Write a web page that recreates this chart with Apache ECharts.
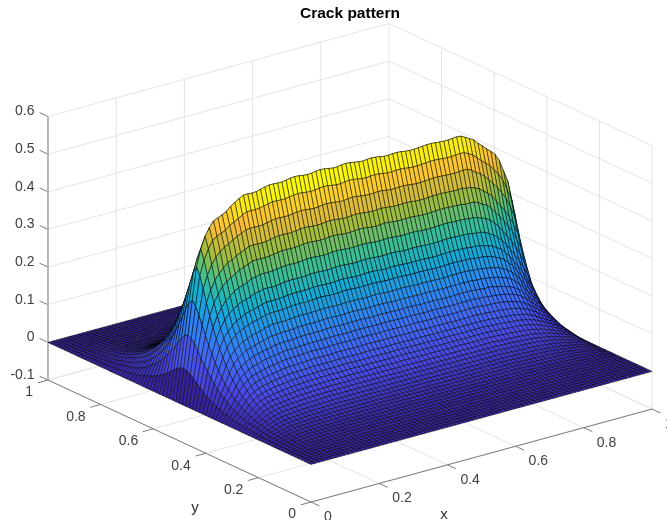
<!DOCTYPE html>
<html><head><meta charset="utf-8">
<script src="https://cdn.jsdelivr.net/npm/echarts@6/dist/echarts.min.js"></script>
<style>html,body{margin:0;padding:0;background:#fff}#c{width:667px;height:520px}</style>
</head><body><div id="c"></div>
<script>
var titleText = 'Crack pattern';
var xTicks = [0, 0.2, 0.4, 0.6, 0.8, 1];
var yTicks = [0, 0.2, 0.4, 0.6, 0.8, 1];
var zTicks = [-0.1, 0, 0.1, 0.2, 0.3, 0.4, 0.5, 0.6];
var meshCells = 80;
var crestRow = 40;

// height along the crack line, one value per x mesh line
var ridgeZ = [
.498,.498,.499,.499,.500,.500,.500,.500,.500,.500,
.500,.501,.502,.504,.506,.507,.507,.506,.507,.510,
.513,.515,.515,.514,.514,.516,.518,.519,.518,.516,
.515,.516,.518,.519,.518,.516,.514,.514,.516,.517,
.516,.514,.512,.511,.512,.513,.512,.510,.508,.508,
.509,.509,.508,.506,.505,.505,.506,.507,.508,.508,
.507,.506,.505,.505,.506,.507,.506,.505,.503,.502,
.500,.500,.499,.499,.498,.498,.498,.497,.497,.497,.497];

// height against distance (in y mesh lines) from the crack, on the plateau
var acrossZ = [.505,.465,.425,.385,.35,.315,.28,.25,.225,.20,.178,.158,.14,.124,.109,.096,.085,.075,.066,.058,.051,.045,.039,.034,.03,.026,.023,.02,.017,.015,.013,.011,.009,.008,.006,.005,.004,.003,.002,.001,0];

// percent of plateau height at the left end: rows = distance 0..30, columns = x lines 0..16
var leftEnd = [
[0,18,35,53,70,79,85,89,92,93,94,95,97,98,99,100,100],
[0,19,37,55,72,80,86,90,92,93,94,96,97,98,99,100,100],
[0,19.5,38,55.5,71,79,85,89,92,94,95,97,98,99,100,100,100],
[0,19.5,38,55,70,78,84,88,91,94,95,97,98,99,100,100,100],
[0,19,37,54,68,77,83,88,91,93,95,97,98,99,100,100,100],
[0,18.5,37,53,67,76,82,87,90,93,95,96,97,99,99,100,100],
[0,18,37,52.5,66,75,82,87,90,93,95,96,97,99,99,100,100],
[0,17.5,36,51,65,75,81,86,90,92,95,96,97,98,99,100,100],
[0,17,35,49.5,63.5,74,81,86,90,92,94,96,97,98,99,100,100],
[0,16.5,34,48,62.5,73,80,85,89,91,94,95,96,98,99,100,100],
[0,16,33,47,62,73,80,85,89,91,93,95,96,98,99,99,100],
[0,16,33,46,60,72,79,84,88,91,93,95,96,97,99,99,100],
[0,15,32,45,59,72,79,84,88,90,93,95,96,97,98,99,100],
[0,15,30,44,58,71,78,84,87,90,92,94,95,97,98,99,100],
[0,15,29,43,57,70,78,83,87,90,92,94,95,97,98,99,99],
[0,15,28,42,57,70,77,83,87,89,92,94,95,97,98,99,99],
[0,14,28,42,56,69,77,82,86,89,92,93,95,96,98,98,99],
[0,14,28,41,55,68,76,82,86,89,91,93,95,96,97,98,99],
[0,14,27,41,55,68,76,82,86,88,91,93,94,96,97,98,99],
[0,14,27,40,54,67,75,81,85,88,90,92,94,96,97,98,99],
[0,14,27,40,54,67,75,81,86,89,91,93,94,96,97,98,99],
[0,13,27,39,53,66,74,81,85,88,90,92,94,95,97,98,98],
[0,13,26,39,53,65,74,80,85,88,90,92,94,95,96,97,98],
[0,13,26,38,52,65,74,80,85,87,90,92,94,95,96,97,98],
[0,13,26,38,52,64,73,80,84,87,90,92,94,95,96,97,98],
[0,13,26,38,51,63,73,80,84,87,90,92,93,95,96,97,98],
[0,13,25,37,51,63,72,79,84,87,90,92,93,95,96,97,98],
[0,12,25,37,50,62,72,79,84,87,89,91,93,94,96,97,97],
[0,12,25,37,50,61,72,79,84,86,89,91,93,94,95,96,97],
[0,12,25,36,49,61,71,78,83,86,89,91,93,94,95,96,97],
[0,12,25,36,49,60,71,78,83,86,89,91,93,94,95,96,97]];

// percent of plateau height at the right end: rows = distance 0..30, columns = x lines 60..80
var rightEnd = [
[100,100,100,100,100,100,100,99,98,97,95,93,91,89,87,83,77,71,60,38,0],
[100,100,100,100,100,100,100,99,98,96,94,92,90,87,84,80,74,68,57,36,0],
[100,100,100,100,100,100,100,99,97,96,94,91,88,85,81,77,71,64,53,33,0],
[100,100,100,100,100,99,99,98,97,95,93,90,86,82,78,73,67,60,49,31,0],
[100,100,100,100,99,99,99,98,96,95,92,88,84,80,75,70,63,56,45,28,0],
[100,100,100,100,99,99,98,97,96,94,91,87,82,77,72,66,59,51,41,25,0],
[100,100,100,100,99,98,98,97,95,93,90,86,81,75,69,63,55,47,37,23,0],
[100,100,100,99,99,98,97,96,95,92,90,85,80,73,67,60,52,44,35,21,0],
[100,100,100,99,98,98,97,96,94,92,89,84,79,72,65,58,50,42,33,20,0],
[100,100,99,99,98,97,96,95,94,91,88,84,78,71,63,56,48,40,31,19,0],
[100,100,99,99,98,97,96,95,93,91,88,83,77,70,62,55,47,39,30,18,0],
[100,99,99,98,98,97,95,94,92,90,87,82,76,69,61,54,47,38,30,18,0],
[100,99,99,98,97,96,95,94,92,90,87,82,76,69,61,54,46,38,30,18,0],
[100,99,98,98,97,96,95,93,92,89,86,81,75,68,61,54,46,38,30,17,0],
[99,99,98,97,97,95,94,93,91,89,85,81,75,68,60,53,46,38,30,17,0],
[99,99,98,97,96,95,94,92,91,88,85,80,74,67,60,53,46,38,29,17,0],
[99,98,98,97,96,94,93,92,90,88,84,80,74,67,60,53,46,37,29,17,0],
[99,98,97,96,95,94,93,91,90,87,83,79,73,66,60,52,45,37,29,17,0],
[99,98,97,96,95,93,92,91,89,86,82,78,72,66,59,52,45,37,29,16,0],
[98,97,96,95,94,93,91,90,88,85,81,77,72,65,59,52,45,37,29,16,0],
[98,97,96,95,94,92,91,89,87,84,80,76,71,65,59,52,45,37,29,16,0],
[98,97,96,95,94,92,90,89,87,84,80,75,70,64,58,51,45,37,28,16,0],
[98,96,95,94,93,91,90,88,86,83,79,75,70,64,58,51,44,37,28,16,0],
[97,96,95,94,92,91,89,88,85,82,78,74,69,63,57,50,44,36,28,16,0],
[97,96,94,93,92,90,89,87,85,82,78,74,69,63,57,50,44,36,28,16,0],
[97,95,94,93,91,90,88,87,84,81,77,73,68,62,56,50,43,36,28,15,0],
[96,95,94,92,91,89,88,86,83,80,76,72,67,62,56,49,43,36,27,15,0],
[96,95,93,92,90,89,87,85,83,79,75,71,67,61,55,49,43,35,27,15,0],
[96,94,93,91,90,88,86,85,82,78,74,70,66,61,55,48,42,35,27,15,0],
[95,94,92,91,89,88,86,84,81,78,74,70,66,60,54,48,42,35,27,15,0],
[95,94,92,90,89,87,85,83,80,77,73,69,65,60,54,48,42,35,27,15,0]];

var surfaceColors = ['#37239e','#4a48e6','#3f6cf6','#2a8cf0','#13aed1','#40bf8f','#a0bd40','#fbbc39','#f9fb0e'];

function height(i, j) {
  var d = Math.abs(j - crestRow), r = Math.min(d, 30), pct = 100;
  if (i <= 16) pct = leftEnd[r][i];
  else if (i >= 60) pct = rightEnd[r][i - 60];
  return ridgeZ[i] / acrossZ[0] * acrossZ[d] * pct / 100;
}
// orthographic view of the MATLAB axes box, as axis units of the hidden cartesian grid
function view(x, y, z) { return [341 * x - 263 * y, 93 * x + 122 * y + 376.5 * z]; }

var cells = [];
for (var j = meshCells - 1; j >= 0; j--) {
  for (var i = meshCells - 1; i >= 0; i--) {
    cells.push([i, j, j < crestRow ? height(i, j + 1) : height(i, j)]);
  }
}
function surfaceItem(params, api) {
  var i = api.value(0), j = api.value(1), n = meshCells;
  var corners = [[i, j], [i + 1, j], [i + 1, j + 1], [i, j + 1]];
  return {
    type: 'polygon',
    shape: { points: corners.map(function (c) { return api.coord(view(c[0] / n, c[1] / n, height(c[0], c[1]))); }) },
    style: { fill: api.visual('color'), stroke: 'rgba(0,0,0,0.8)', lineWidth: 0.62 }
  };
}

var zLo = zTicks[0], zHi = zTicks[zTicks.length - 1];
var gridLines = [], axisLines = [], labels = [];
zTicks.forEach(function (z) {
  gridLines.push([0, 1, z, 1, 1, z], [1, 1, z, 1, 0, z]);
  axisLines.push([0, 1, z, 0, 1.032, z, 0]);
  labels.push([0, 1, z, z === 0 ? '0' : String(z), 2]);
});
xTicks.forEach(function (x) {
  if (x > 0) gridLines.push([x, 1, zLo, x, 1, zHi]);
  gridLines.push([x, 0, zLo, x, 1, zLo]);
  axisLines.push([x, 0, zLo, x, -0.032, zLo, 0]);
  labels.push([x, 0, zLo, String(x), 0]);
});
yTicks.forEach(function (y) {
  if (y < 1) gridLines.push([1, y, zLo, 1, y, zHi]);
  gridLines.push([0, y, zLo, 1, y, zLo]);
  axisLines.push([0, y, zLo, -0.03, y, zLo, 0]);
  labels.push([0, y, zLo, String(y), 1]);
});
axisLines.push([0, 0, zLo, 1, 0, zLo, 0], [0, 0, zLo, 0, 1, zLo, 0], [0, 1, zLo, 0, 1, zHi, 1]);

function segItem(color, widthOf) {
  return function (params, api) {
    var a = api.coord(view(api.value(0), api.value(1), api.value(2)));
    var b = api.coord(view(api.value(3), api.value(4), api.value(5)));
    var heavy = api.value(6) === 1;
    return { type: 'line', shape: { x1: a[0], y1: a[1], x2: b[0], y2: b[1] },
      style: { stroke: heavy ? '#b0b0b0' : color, lineWidth: heavy ? 1.8 : widthOf } };
  };
}
var labelStyle = [
  { dx: 13, dy: 15, align: 'left' },
  { dx: -15, dy: 12.5, align: 'right' },
  { dx: -13.5, dy: -5, align: 'right' }
];
function labelItem(params, api) {
  var p = api.coord(view(api.value(0), api.value(1), api.value(2)));
  var s = labelStyle[api.value(4)];
  return { type: 'text', x: p[0] + s.dx, y: p[1] + s.dy,
    style: { text: labels[params.dataIndex][3], fill: '#404040', font: '14px "Liberation Sans", Arial, sans-serif', align: s.align, verticalAlign: 'middle' } };
}
var axisNames = ['x', 'y'];
var nameSpots = [[444, 515], [195, 508]];
function nameItem(params) {
  return { type: 'text', x: nameSpots[params.dataIndex][0], y: nameSpots[params.dataIndex][1],
    style: { text: axisNames[params.dataIndex], fill: '#303030', font: '15px "Liberation Sans", Arial, sans-serif', align: 'center', verticalAlign: 'middle' } };
}

var chart = echarts.init(document.getElementById('c'), null, { renderer: 'canvas' });
chart.setOption({
  animation: false,
  backgroundColor: '#fff',
  title: { text: titleText, left: 300, top: 6, textStyle: { fontFamily: '"Liberation Sans", Arial, sans-serif', fontWeight: 'bold', fontSize: 15.5, color: '#000' }, padding: 0 },
  grid: { left: 0, right: 0, top: 0, bottom: 0 },
  xAxis: { type: 'value', min: -311, max: 356, show: false },
  yAxis: { type: 'value', min: -55.6, max: 464.4, show: false },
  tooltip: { show: false },
  visualMap: { type: 'continuous', show: false, min: 0, max: 0.52, dimension: 2, seriesIndex: 2, inRange: { color: surfaceColors } },
  series: [
    { type: 'custom', name: 'walls', silent: true, clip: false, z: 1, progressive: 0, renderItem: segItem('#e4e4e4', 1), data: gridLines.map(function (s) { return s.concat([0]); }) },
    { type: 'custom', name: 'axes', silent: true, clip: false, z: 2, progressive: 0, renderItem: segItem('#6e6e6e', 0.9), data: axisLines },
    { type: 'custom', name: 'surface', silent: true, clip: false, z: 3, progressive: 0, renderItem: surfaceItem, data: cells },
    { type: 'custom', name: 'tickLabels', silent: true, clip: false, z: 4, progressive: 0, renderItem: labelItem, data: labels },
    { type: 'custom', name: 'axisNames', silent: true, clip: false, z: 4, progressive: 0, renderItem: nameItem, data: axisNames }
  ]
});
</script></body></html>
